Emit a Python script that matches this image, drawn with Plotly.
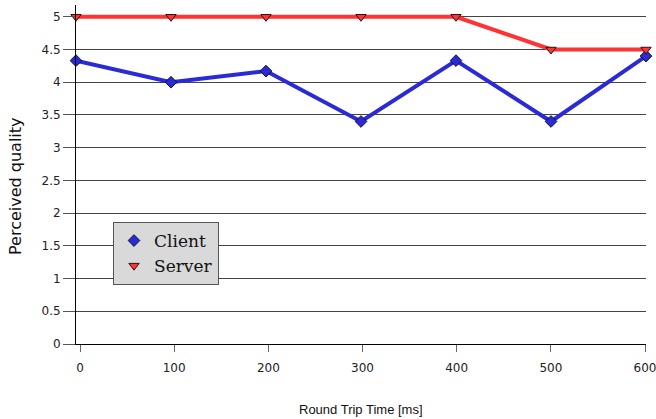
import plotly.graph_objects as go

# Round trip time (ms) and perceived quality scores
rtt_ms = [0, 100, 200, 300, 400, 500, 600]
client_quality = [4.33, 4.0, 4.17, 3.4, 4.33, 3.4, 4.4]
server_quality = [5.0, 5.0, 5.0, 5.0, 5.0, 4.5, 4.5]
y_ticks = [0, 0.5, 1, 1.5, 2, 2.5, 3, 3.5, 4, 4.5, 5]
y_tick_labels = ["0", "0.5", "1", "1.5", "2", "2.5", "3", "3.5", "4", "4.5", "5"]

CLIENT_COLOR = "#2a2ad6"
SERVER_COLOR = "#ff3333"
client_marker = dict(symbol="diamond", size=9, color=CLIENT_COLOR,
                     line=dict(color="#111133", width=1))
server_marker = dict(symbol="triangle-down", size=9, color=SERVER_COLOR,
                     line=dict(color="#331111", width=1))

fig = go.Figure()

fig.add_trace(go.Scatter(
    x=rtt_ms, y=client_quality, name="Client", mode="lines+markers",
    line=dict(color=CLIENT_COLOR, width=4), marker=client_marker,
    cliponaxis=False, showlegend=False,
))
fig.add_trace(go.Scatter(
    x=rtt_ms, y=server_quality, name="Server", mode="lines+markers",
    line=dict(color=SERVER_COLOR, width=4), marker=server_marker,
    cliponaxis=False, showlegend=False,
))
# legend entries show the marker symbol only
fig.add_trace(go.Scatter(
    x=[None], y=[None], name="Client", mode="markers", marker=client_marker,
))
fig.add_trace(go.Scatter(
    x=[None], y=[None], name="Server", mode="markers", marker=server_marker,
))
# carrier for the tick-label axis
fig.add_trace(go.Scatter(
    x=rtt_ms, y=[None] * len(rtt_ms), xaxis="x2", mode="lines",
    showlegend=False, hoverinfo="skip",
))

fig.update_layout(
    width=656, height=419,
    margin=dict(l=76, r=10, t=5, b=75, autoexpand=False),
    paper_bgcolor="white", plot_bgcolor="white",
    showlegend=True,
    legend=dict(
        x=(113 - 76) / 570, y=(344 - 222) / 339, xanchor="left", yanchor="top",
        bgcolor="#d9d9d9", bordercolor="#555555", borderwidth=1,
        font=dict(family="DejaVu Serif", size=17, color="#111111"),
        itemwidth=30, tracegroupgap=0,
    ),
    xaxis=dict(
        range=[0, 600], showgrid=False, zeroline=False, automargin=False,
        showline=True, linecolor="#000000", linewidth=1,
        showticklabels=False, ticks="",
    ),
    xaxis2=dict(
        overlaying="x", anchor="y", side="bottom", automargin=False,
        range=[-4.25, 601.06], tickvals=rtt_ms,
        ticktext=[str(v) for v in rtt_ms],
        ticks="outside", ticklen=7, tickcolor="#666666", tickwidth=1,
        showgrid=False, zeroline=False, showline=False,
        tickfont=dict(family="DejaVu Sans", size=12, color="#222222"),
        ticklabelstandoff=6, ticklabeloverflow="allow",
    ),
    yaxis=dict(
        range=[0, 5.18], tickvals=y_ticks, ticktext=y_tick_labels,
        automargin=False,
        showgrid=True, gridcolor="#444444", gridwidth=1,
        zeroline=False, showline=True, linecolor="#000000", linewidth=1,
        ticks="outside", ticklen=12, tickcolor="#555555",
        tickfont=dict(family="DejaVu Sans", size=12, color="#222222"),
    ),
    annotations=[
        dict(text="Round Trip Time [ms]", xref="paper", yref="paper",
             x=0.5, y=-(409 - 344) / 339, xanchor="center", yanchor="middle",
             showarrow=False,
             font=dict(family="Liberation Sans", size=13, color="#111111")),
        dict(text="Perceived quality", xref="paper", yref="paper",
             x=-(76 - 15) / 570, y=(344 - 186) / 339, xanchor="center",
             yanchor="middle", textangle=-90, showarrow=False,
             font=dict(family="DejaVu Sans", size=16, color="#111111")),
    ],
)

fig.write_html("out.html")
